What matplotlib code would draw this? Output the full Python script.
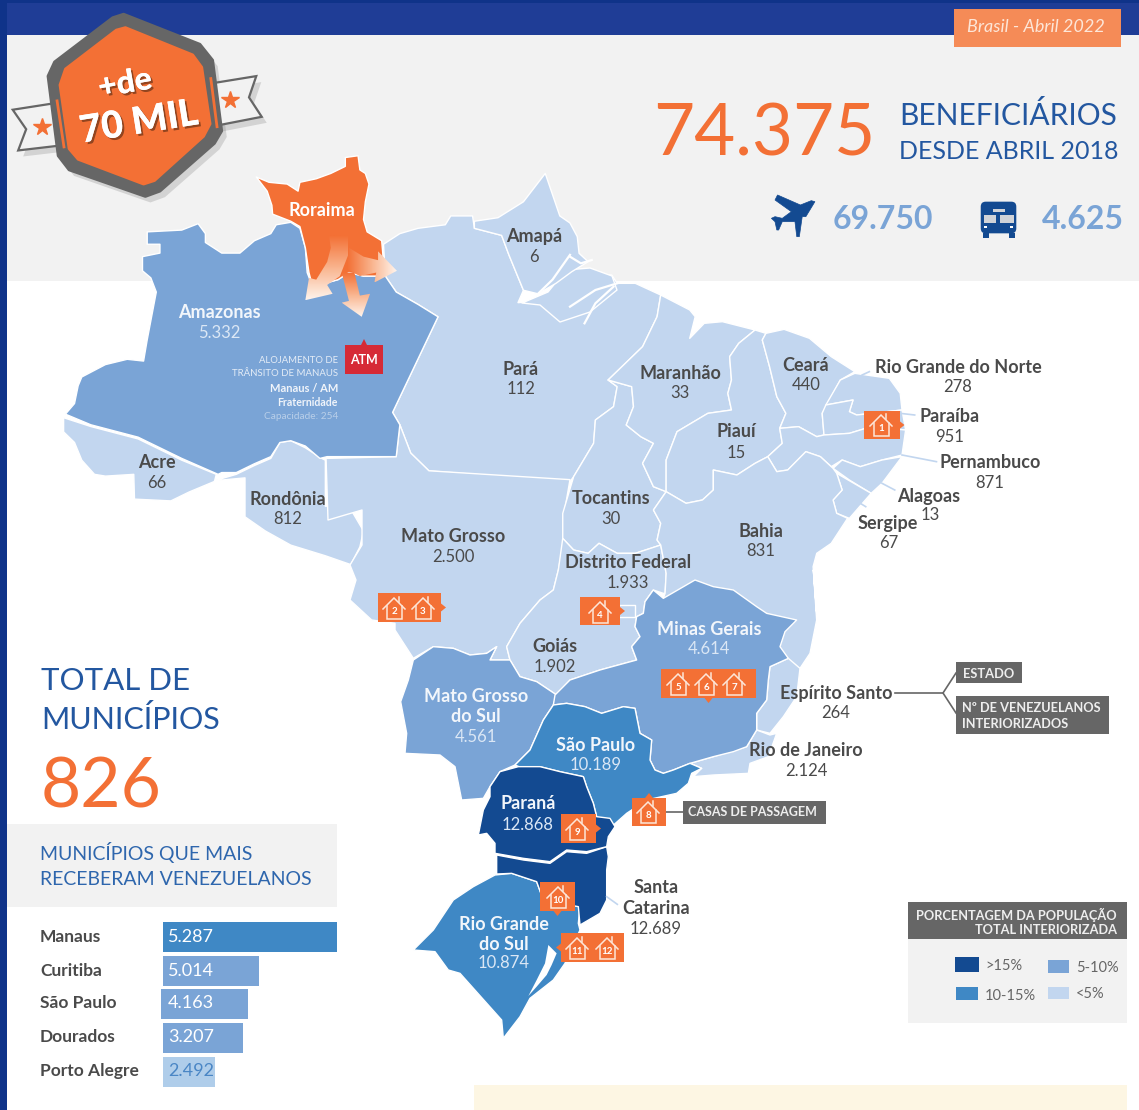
import numpy as np
import matplotlib
matplotlib.use('Agg')
import matplotlib.pyplot as plt
import matplotlib.patheffects as pe
from matplotlib.patches import Polygon, Rectangle, FancyBboxPatch
from matplotlib.colors import LinearSegmentedColormap

plt.rcParams['font.family'] = ['Lato', 'DejaVu Sans']

# ---- dados ----
state_names = ['Amazonas', 'Amapá', 'Pará', 'Maranhão', 'Ceará', 'Rio Grande do Norte', 'Paraíba',
               'Piauí', 'Pernambuco', 'Alagoas', 'Sergipe', 'Acre', 'Rondônia', 'Mato Grosso',
               'Tocantins', 'Bahia', 'Distrito Federal', 'Goiás', 'Minas Gerais',
               'Mato Grosso\ndo Sul', 'Espírito Santo', 'Rio de Janeiro', 'São Paulo', 'Paraná',
               'Santa\nCatarina', 'Rio Grande\ndo Sul']
state_values = ['5.332', '6', '112', '33', '440', '278', '951', '15', '871', '13', '67', '66', '812',
                '2.500', '30', '831', '1.933', '1.902', '4.614', '4.561', '264', '2.124', '10.189',
                '12.868', '12.689', '10.874']
city_names = ['Manaus', 'Curitiba', 'São Paulo', 'Dourados', 'Porto Alegre']
city_labels = ['5.287', '5.014', '4.163', '3.207', '2.492']
city_bar_lengths = [174, 96, 87, 80, 52]  # o comprimento no original nao e proporcional
legend_labels = ['>15%', '5-10%', '10-15%', '<5%']

# ---- layout ----
label_x = [219, 534, 521, 680, 806, 958, 950, 736, 990, 929, 888, 157, 288, 453, 611, 761, 628, 555,
           709, 476, 836, 806, 596, 528, 656, 504]
label_y = [311, 235, 368, 372, 364, 366, 415, 430, 461, 495, 522, 461, 498, 535, 497, 530, 561, 645,
           628, 695, 692, 749, 744, 802, 886, 923]
value_y = [331, 255, 387, 392, 383, 386, 435, 451, 481, 514, 541, 481, 518, 555, 517, 549, 581, 665,
           648, 736, 712, 769, 764, 823, 927, 962]
value_x_fix = {'Alagoas': 930, 'Sergipe': 889}
light_labels = {'Amazonas', 'Minas Gerais', 'Mato Grosso\ndo Sul', 'São Paulo', 'Paraná', 'Rio Grande\ndo Sul'}
bar_y = [937, 971, 1004, 1038, 1071.5]
bar_left = [163, 163, 161, 163, 163]

ORANGE = '#f37035'
C5 = '#c2d6ef'
C10 = '#7aa4d6'
C15 = '#3f88c5'
C20 = '#134a91'
GRAY = '#666666'
DARK = '#4a4a4a'
TITLE_BLUE = '#2357a0'


def z1(p):
    return [(x / 2.751, y / 2.825) for x, y in p]


def z2(p):
    return [(570 + x / 2.756, 180 + y / 3.0) for x, y in p]


def z3(p):
    return [(380 + x / 3.0, 570 + y / 3.0) for x, y in p]


fig = plt.figure(figsize=(11.39, 11.10), dpi=100)
ax = fig.add_axes([0, 0, 1, 1])
ax.set_xlim(0, 1139)
ax.set_ylim(1110, 0)
ax.axis('off')


def rect(x0, y0, x1, y1, color, z=1, **kw):
    ax.add_patch(Rectangle((x0, y0), x1 - x0, y1 - y0, facecolor=color, edgecolor='none', zorder=z, **kw))


def txt(x, y, s, size, color=DARK, ha='center', weight='normal', z=10, **kw):
    return ax.text(x, y + 1.5, s, fontsize=size, color=color, ha=ha, va='center', fontweight=weight, zorder=z, **kw)


# fundo
rect(0, 35, 1139, 281, '#f2f2f2', 0)
rect(0, 0, 1139, 35, '#1f3d96', 1)
rect(0, 0, 1139, 3, '#0f3389', 2)
rect(0, 0, 7, 1110, '#0f3389', 2)
rect(474, 1085, 1127, 1110, '#fdf6e3', 0)

# ---- mapa ----
para = z1([(1055, 690), (1100, 660), (1150, 645), (1225, 635), (1240, 610), (1300, 610), (1305, 645), (1380, 665),
           (1400, 720), (1440, 820), (1425, 855), (1500, 850), (1540, 775)]) + \
    z2([(0, 280), (115, 285), (130, 310), (180, 310), (250, 345), (240, 410), (200, 500), (105, 600), (130, 620),
        (120, 680), (70, 720), (65, 790), (10, 890), (0, 905)]) + \
    z1([(1180, 1330), (1130, 1280), (1100, 1200), (1080, 1165), (1205, 895), (1150, 860), (1090, 825), (1060, 780)])
marajo = [(522, 303), (548, 292), (566, 270), (590, 268), (612, 276), (617, 290), (590, 312), (560, 322), (540, 305)]
amapa = z1([(1305, 625), (1370, 615), (1440, 570), (1500, 490), (1540, 610), (1568, 630)]) + \
    z2([(20, 170), (25, 220), (50, 245), (5, 275)]) + \
    z1([(1530, 800), (1480, 830), (1440, 820), (1400, 720), (1380, 665), (1305, 645)])
acre = z1([(175, 1180), (250, 1205), (380, 1240), (500, 1300), (595, 1340), (590, 1360), (520, 1390), (470, 1415),
           (370, 1410), (368, 1340), (290, 1345), (260, 1340), (225, 1300), (205, 1250), (175, 1220)])
rondonia = z1([(590, 1358), (650, 1340), (700, 1315), (745, 1295), (770, 1250), (800, 1245), (840, 1265), (885, 1295),
               (895, 1300), (895, 1430), (960, 1430), (1000, 1500), (990, 1545), (965, 1595), (895, 1570), (800, 1540),
               (730, 1500), (674, 1460), (674, 1350)])
mato_grosso = z1([(897, 1295), (1090, 1290), (1100, 1200), (1130, 1280), (1180, 1330), (1568, 1355)]) + \
    [(563, 520), (563, 545)] + \
    z3([(535, 0), (520, 60), (480, 90), (420, 160), (380, 230), (390, 270), (330, 270), (350, 230), (320, 250),
        (270, 255), (220, 235), (160, 230), (100, 265), (45, 180), (45, 160), (-25, 150)]) + \
    [(350, 600), (356, 580), (350, 565), (362, 545), (362, 510), (328, 520)]
tocantins = z2([(105, 600), (170, 620), (175, 680), (155, 735), (195, 770), (230, 790), (200, 850), (230, 920),
                (265, 935), (230, 990), (250, 1030), (240, 1080), (250, 1095), (180, 1120), (130, 1120), (80, 1090),
                (50, 1120), (10, 1110), (-20, 1075), (-20, 1000), (10, 890), (65, 790), (70, 720), (120, 680),
                (130, 620)])
goias = z2([(-20, 1075), (10, 1110), (50, 1120), (80, 1090), (130, 1120), (180, 1120), (250, 1095), (265, 1180),
            (262, 1240)]) + \
    z3([(850, 70), (820, 60), (795, 95), (790, 130), (770, 140), (765, 170), (780, 200), (755, 230), (770, 270),
        (660, 300), (570, 330), (530, 375), (470, 335), (420, 320), (390, 270), (380, 230), (420, 160), (480, 90),
        (520, 60), (535, 0)])
maranhao = z2([(250, 345), (330, 390), (345, 410), (330, 475), (370, 430), (420, 425), (510, 450), (465, 490),
               (440, 530), (445, 600), (435, 640), (445, 690), (380, 700), (295, 755), (265, 840), (265, 935),
               (230, 920), (200, 850), (230, 790), (195, 770), (155, 735), (175, 680), (170, 620), (105, 600),
               (200, 500), (240, 410)])
piaui = z2([(510, 450), (540, 460), (530, 480), (550, 560), (570, 650), (595, 700), (578, 745), (585, 790), (545, 830),
            (510, 850), (460, 885), (395, 870), (395, 930), (365, 960), (320, 970), (265, 935), (265, 840), (295, 755),
            (380, 700), (445, 690), (435, 640), (445, 600), (440, 530), (465, 490)])
ceara = z2([(540, 460), (590, 448), (660, 475), (720, 530), (785, 575), (745, 600), (715, 660), (695, 700), (700, 765),
            (680, 770), (630, 740), (578, 745), (595, 700), (570, 650), (550, 560), (530, 480)])
rn = z2([(785, 580), (880, 595), (910, 640), (915, 690), (790, 705), (770, 695), (780, 660), (705, 675), (745, 600)])
paraiba = z2([(705, 675), (780, 660), (770, 695), (790, 705), (915, 690), (925, 750), (830, 740), (770, 760),
              (700, 765), (695, 700)])
pernambuco = z2([(578, 745), (630, 740), (680, 770), (700, 765), (770, 760), (830, 740), (925, 750), (915, 825),
                 (860, 840), (800, 860), (750, 840), (720, 860), (690, 830), (650, 815), (600, 870), (570, 875),
                 (545, 830), (585, 790)])
alagoas = z2([(725, 865), (750, 840), (800, 860), (860, 840), (915, 830), (860, 910), (830, 940), (770, 900)])
sergipe = z2([(735, 880), (830, 940), (770, 1015), (735, 1000), (725, 960), (750, 930)])
bahia = z2([(395, 870), (460, 885), (510, 850), (545, 830), (570, 875), (600, 870), (650, 815), (690, 830), (725, 865),
            (735, 880), (750, 930), (725, 960), (735, 1000), (765, 1015), (720, 1090), (680, 1120), (670, 1160),
            (680, 1300)]) + \
    z3([(1300, 0), (1310, 150), (1290, 250), (1260, 295), (1170, 300), (850, 85)]) + \
    z2([(262, 1240), (265, 1180), (250, 1095), (240, 1080), (250, 1030), (230, 990), (265, 935), (320, 970), (365, 960),
        (395, 930)])
minas = z3([(850, 85), (945, 30), (1000, 50), (1060, 60), (1130, 110), (1160, 130), (1250, 150), (1215, 185),
            (1200, 230), (1225, 265), (1170, 290), (1165, 330), (1160, 390), (1130, 430), (1130, 480), (1100, 530),
            (1060, 545), (1000, 560), (930, 580), (880, 600), (850, 610), (825, 600), (810, 570), (815, 510),
            (780, 490), (765, 415), (730, 410), (665, 430), (615, 410), (560, 400), (520, 405), (525, 375), (570, 330),
            (660, 300), (770, 270), (755, 230), (780, 200), (765, 170), (770, 140), (790, 130), (795, 95), (820, 60)])
espirito = z3([(1170, 290), (1225, 265), (1260, 295), (1250, 380), (1210, 440), (1170, 490), (1130, 480), (1130, 430),
               (1160, 390), (1165, 330)])
rio = z3([(1130, 480), (1170, 495), (1190, 490), (1165, 560), (1110, 580), (1105, 610), (1000, 615), (940, 620),
          (965, 595), (930, 580), (1000, 560), (1100, 530)])
sao_paulo = z3([(405, 585), (450, 540), (490, 450), (520, 405), (560, 400), (615, 410), (665, 430), (730, 410),
                (765, 415), (780, 490), (815, 510), (810, 570), (825, 600), (850, 610), (880, 600), (930, 580),
                (965, 595), (935, 610), (925, 640), (890, 670), (800, 690), (740, 730), (695, 770), (650, 740),
                (640, 700), (620, 650), (610, 620), (540, 605), (480, 590), (440, 600)])
parana = z3([(330, 650), (360, 605), (415, 590), (480, 590), (540, 605), (610, 620), (620, 650), (640, 700), (650, 740),
             (690, 745), (705, 770), (685, 800), (680, 830), (620, 845), (560, 840), (510, 875), (430, 865), (345, 850),
             (345, 820), (320, 790), (295, 795), (310, 720), (330, 680)])
santa_catarina = z3([(350, 855), (430, 870), (510, 880), (560, 845), (620, 850), (680, 830), (685, 860), (680, 900),
                     (680, 990), (660, 1030), (600, 1065), (595, 1010), (490, 990), (470, 935), (395, 910), (350, 912)])
rs = z3([(345, 915), (395, 910), (470, 935), (490, 990), (600, 1010), (595, 1060), (600, 1080), (555, 1180), (520, 1230),
         (450, 1285), (420, 1340), (370, 1405), (365, 1350), (240, 1210), (205, 1200), (165, 1145), (100, 1140),
         (160, 1080), (220, 990), (280, 950)])
lagoa = z3([(505, 1125), (530, 1150), (515, 1185), (500, 1215), (470, 1250), (445, 1278), (470, 1230), (495, 1180)])
ms = z3([(100, 270), (160, 230), (220, 235), (270, 255), (320, 250), (350, 230), (330, 270), (390, 270), (420, 320),
         (470, 335), (530, 375), (520, 405), (490, 450), (450, 540), (405, 585), (360, 605), (330, 650), (310, 685),
         (245, 690), (225, 590), (180, 555), (75, 550), (80, 490), (62, 395), (85, 330)])
amazonas = z1([(405, 655), (500, 650), (545, 632), (565, 660), (565, 685), (610, 715), (660, 715), (700, 680),
               (745, 660), (760, 635), (800, 628), (825, 645), (840, 700), (845, 770), (860, 810), (930, 790),
               (960, 770), (1000, 780), (1060, 780), (1090, 825), (1150, 860), (1205, 895), (1080, 1165), (1100, 1200),
               (1090, 1290), (900, 1290), (880, 1295), (840, 1260), (800, 1245), (770, 1250), (745, 1290), (700, 1310),
               (650, 1335), (610, 1335), (600, 1340), (500, 1295), (380, 1235), (250, 1200), (180, 1170), (205, 1140),
               (215, 1090), (225, 1065), (290, 1030), (350, 1015), (395, 1020), (405, 960), (430, 825), (415, 785),
               (392, 765), (392, 725), (440, 715), (440, 690), (405, 690)])
roraima = z1([(705, 500), (740, 515), (790, 520), (820, 540), (825, 515), (870, 505), (910, 490), (950, 470), (950, 445),
              (985, 440), (990, 480), (1005, 490), (1015, 520), (1005, 570), (1000, 620), (1010, 655), (1050, 680),
              (1055, 740), (1060, 780), (1000, 780), (960, 770), (930, 790), (860, 810), (850, 770), (840, 700),
              (825, 640), (800, 625), (750, 605), (748, 580), (735, 540)])

light_states = [para, marajo, amapa, acre, rondonia, mato_grosso, tocantins, goias, maranhao, piaui, ceara, rn, paraiba,
                pernambuco, alagoas, sergipe, bahia, espirito, rio]
for st in light_states:
    ax.add_patch(Polygon(st, closed=True, facecolor=C5, edgecolor='white', lw=1.0, zorder=3, joinstyle='round'))
for st, cor in [(ms, C10), (minas, C10), (amazonas, C10), (sao_paulo, C15), (rs, C15), (santa_catarina, C20),
                (parana, C20), (roraima, ORANGE)]:
    ax.add_patch(Polygon(st, closed=True, facecolor=cor, edgecolor='white', lw=1.0, zorder=4, joinstyle='round'))
ax.add_patch(Polygon(lagoa, closed=True, facecolor='white', edgecolor='none', zorder=5))

# foz do amazonas
for linha in [z2([(0, 380), (70, 330), (130, 310)]), z2([(40, 430), (70, 370), (120, 320)]),
              z2([(0, 230), (30, 250), (60, 240)]), z1([(1480, 830), (1520, 790), (1568, 720)])]:
    ax.plot(*zip(*linha), color='white', lw=1.6, zorder=5)
# borda do DF
ax.plot(*zip(*z3([(720, 105), (765, 105), (765, 140), (720, 140)])), color='white', lw=1, zorder=5)

# setas de Roraima
seta_cmap = LinearSegmentedColormap.from_list('seta', [ORANGE, '#f9b48e', '#fff4ec'])
setas = [
    (z1([(905, 665), (958, 665), (958, 720), (935, 780), (900, 805), (915, 830), (840, 848), (850, 785), (870, 790),
         (900, 740), (910, 700)]), 'v'),
    (z1([(940, 770), (975, 770), (990, 835), (1018, 830), (995, 895), (940, 855), (960, 850)]), 'v'),
    (z1([(960, 700), (1000, 725), (1040, 735), (1040, 710), (1092, 765), (1030, 798), (1035, 770), (990, 780),
         (955, 760)]), 'h'),
]
for pts, sentido in setas:
    xs, ys = zip(*pts)
    grad = np.linspace(0, 1, 64)
    grad = grad[:, None] if sentido == 'v' else grad[None, :]
    im = ax.imshow(grad, extent=(min(xs), max(xs), max(ys), min(ys)), cmap=seta_cmap, aspect='auto', zorder=6)
    clip = Polygon(pts, closed=True, transform=ax.transData, facecolor='none', edgecolor='none')
    ax.add_patch(clip)
    im.set_clip_path(clip)
ax.set_xlim(0, 1139)
ax.set_ylim(1110, 0)

# ---- selo ----
hex_out = z1([(340, 40), (550, 125), (585, 170), (610, 370), (590, 405), (440, 540), (400, 555), (190, 480), (160, 440),
              (132, 215), (150, 175), (310, 50)])
hex_in = z1([(345, 78), (530, 155), (555, 190), (578, 350), (560, 385), (425, 510), (395, 520), (215, 450), (190, 420),
             (165, 240), (180, 195), (320, 85)])
fita_e = z1([(35, 310), (160, 290), (175, 410), (50, 425), (72, 365)])
fita_d = z1([(585, 235), (705, 215), (685, 275), (720, 330), (595, 355)])
for pts in [hex_out, fita_e, fita_d]:
    ax.add_patch(Polygon([(x + 5, y + 6) for x, y in pts], closed=True, facecolor='#777777', edgecolor='none',
                         alpha=0.25, zorder=6))
for pts in [fita_e, fita_d]:
    ax.add_patch(Polygon(pts, closed=True, facecolor='#f2f2f2', edgecolor=GRAY, lw=1.6, zorder=7))
ax.add_patch(Polygon(hex_out, closed=True, facecolor=GRAY, edgecolor=GRAY, lw=2, joinstyle='round', zorder=8))
ax.add_patch(Polygon(hex_in, closed=True, facecolor=ORANGE, edgecolor=ORANGE, lw=2, joinstyle='round', zorder=9))
ax.plot(*zip(*z1([(157, 285), (176, 415)])), color=ORANGE, lw=2, zorder=8)
ax.plot(*zip(*z1([(580, 222), (597, 358)])), color=ORANGE, lw=2, zorder=8)
ax.plot(*zip(*z1([(115, 358), (632, 283)])), ls='none', marker='*', ms=13, color=ORANGE, zorder=9)
sombra = [pe.withSimplePatchShadow(offset=(1.5, -1.5), shadow_rgbFace='#7a3a1a', alpha=0.8), pe.Normal()]
txt(125, 82, '+de', 23, 'white', weight='black', rotation=10, path_effects=sombra)
txt(139, 121, '70 MIL', 27, 'white', weight='black', rotation=9, path_effects=sombra)

# ---- topo ----
rect(954, 9, 1121, 47, '#f58b57', 3)
txt(1036, 26, 'Brasil - Abril 2022', 13, '#fde6d8', style='italic')
txt(764, 134, '74.375', 51, ORANGE)
txt(899, 114, 'BENEFICIÁRIOS', 21.5, TITLE_BLUE, ha='left')
txt(899, 150, 'DESDE ABRIL 2018', 18, TITLE_BLUE, ha='left')
txt(833, 218, '69.750', 23, C10, ha='left', weight='bold')
txt(1042, 218, '4.625', 23, C10, ha='left', weight='bold')

aviao = z2([(675, 65), (650, 110), (640, 110), (632, 170), (625, 170), (620, 125), (585, 125), (575, 150), (570, 150),
            (565, 125), (555, 115), (565, 110), (585, 115), (610, 95), (565, 60), (572, 45), (635, 75), (665, 62)])
ax.add_patch(Polygon(aviao, closed=True, facecolor=C20, edgecolor=C20, lw=0.5, zorder=5))

(bx0, by0), (bx1, by1) = z2([(1132, 65), (1230, 160)])
ax.add_patch(FancyBboxPatch((bx0 + 3, by0 + 3), bx1 - bx0 - 6, by1 - by0 - 6, boxstyle='round,pad=3,rounding_size=5',
                            facecolor=C20, edgecolor='none', zorder=5))
for a, b, cor in [((1140, 105), (1175, 130), '#d0d3d8'), ((1185, 105), (1225, 130), '#d0d3d8'),
                  ((1165, 88), (1200, 96), '#d0d3d8'), ((1137, 160), (1155, 175), C20), ((1210, 160), (1227, 175), C20),
                  ((1142, 137), (1150, 145), 'white'), ((1213, 137), (1221, 145), 'white')]:
    (x0, y0), (x1, y1) = z2([a, b])
    rect(x0, y0, x1, y1, cor, 6)

# ---- rotulos dos estados ----
txt(322, 209, 'Roraima', 13, 'white', weight='bold', z=11)
for nome, valor, lx, ly, vy in zip(state_names, state_values, label_x, label_y, value_y):
    claro = nome in light_labels
    cor_nome = '#f2f6fb' if claro else DARK
    cor_valor = '#dbe7f5' if claro else DARK
    partes = nome.split('\n')
    passo = (vy - ly) / len(partes)
    for i, parte in enumerate(partes):
        txt(lx, ly + i * passo, parte, 13, cor_nome, weight='bold')
    txt(value_x_fix.get(nome, lx), vy, valor, 12, cor_valor)

# linhas de chamada
for linha in [z2([(805, 585), (825, 575)]), z2([(910, 700), (950, 705)]), z2([(915, 825), (1010, 845)]),
              z2([(860, 910), (895, 930)]), z2([(800, 970), (815, 980)]), z3([(680, 980), (712, 1003)])]:
    ax.plot(*zip(*linha), color=C5, lw=1.2, zorder=5)

# ---- ATM ----
rect(345, 345, 383, 373.5, '#d62a36', 6)
ax.add_patch(Polygon([(361, 345), (367, 345), (364, 339)], closed=True, facecolor='#d62a36', zorder=6))
txt(364, 358, 'ATM', 9, 'white', weight='bold')
for yy, s, tam, cor, peso in [(359, 'ALOJAMENTO DE', 6.8, '#e4ecf6', 'normal'),
                              (372, 'TRÂNSITO DE MANAUS', 6.9, '#e4ecf6', 'normal'),
                              (387, 'Manaus / AM', 8, '#f0f4fa', 'bold'),
                              (401, 'Fraternidade', 7.6, '#f0f4fa', 'bold'),
                              (415, 'Capacidade: 254', 7.3, '#b9cfe9', 'normal')]:
    txt(338, yy, s, tam, cor, ha='right', weight=peso)


# ---- casas de passagem ----
def casa(cx, cy, n):
    tp = [(-11, 1), (0, -10), (11, 1)]
    corpo = [(-7.5, -2), (-7.5, 11), (7.5, 11), (7.5, -2)]
    chamine = [(5, -6), (5, -11)]
    for pts in [tp, corpo, chamine]:
        ax.plot([cx + p[0] for p in pts], [cy + p[1] for p in pts], color='#fde6d8', lw=1.1, zorder=8,
                solid_joinstyle='miter')
    txt(cx, cy + 2, n, 7, 'white', weight='bold', z=9)


caixas = [
    (864, 411, 899.5, 439, 'r', [(881, 425, '1')]),
    (378, 593, 441, 622, 'r', [(394, 608, '2'), (423, 608, '3')]),
    (580, 597, 620, 625, 'r', [(600, 612, '4')]),
    (661, 669, 756, 698, 'b', [(678, 684, '5'), (706, 684, '6'), (734, 684, '7')]),
    (632, 798, 666, 826, 't', [(648, 812, '8')]),
    (561, 814, 596, 843, 'r', [(577, 829, '9')]),
    (540, 882, 575, 911, 'b', [(558, 897, '10')]),
    (561, 933, 624, 962, 'l', [(577, 948, '11'), (607, 948, '12')]),
]
for x0, y0, x1, y1, lado, casas in caixas:
    rect(x0, y0, x1, y1, ORANGE, 7)
    xm, ym = (x0 + x1) / 2, (y0 + y1) / 2
    if lado == 'r':
        tri = [(x1, ym - 4), (x1, ym + 4), (x1 + 5, ym)]
    elif lado == 'l':
        tri = [(x0, ym - 4), (x0, ym + 4), (x0 - 5, ym)]
    elif lado == 'b':
        tri = [(xm - 4, y1), (xm + 4, y1), (xm, y1 + 5)]
    else:
        tri = [(xm - 4, y0), (xm + 4, y0), (xm, y0 - 5)]
    ax.add_patch(Polygon(tri, closed=True, facecolor=ORANGE, edgecolor='none', zorder=7))
    for cx, cy, n in casas:
        casa(cx, cy, n)

# etiquetas cinza
ax.plot([666, 683], [812, 812], color=GRAY, lw=1.2, zorder=5)
rect(683, 801, 826, 824, GRAY, 6)
txt(752, 811, 'CASAS DE PASSAGEM', 9, '#eeeeee', weight='bold')
ax.plot([895, 943], [693, 693], color=GRAY, lw=1.2, zorder=5)
ax.plot([956, 943, 956], [673, 693, 713], color=GRAY, lw=1.2, zorder=5)
rect(956, 662, 1022, 683, GRAY, 6)
txt(963, 672, 'ESTADO', 9.3, '#eeeeee', ha='left', weight='bold')
rect(956, 696, 1109, 734, GRAY, 6)
txt(962, 706, 'Nº DE VENEZUELANOS', 9.2, '#eeeeee', ha='left', weight='bold')
txt(962, 722, 'INTERIORIZADOS', 9.2, '#eeeeee', ha='left', weight='bold')

# ---- municipios ----
txt(41, 680, 'TOTAL DE', 22.5, TITLE_BLUE, ha='left')
txt(41, 718, 'MUNICÍPIOS', 22, TITLE_BLUE, ha='left')
txt(41, 786, '826', 50, ORANGE, ha='left')
rect(7, 824, 337, 907, '#f2f2f2', 1)
txt(40, 851, 'MUNICÍPIOS QUE MAIS', 14, '#2e66ad', ha='left')
txt(40, 878, 'RECEBERAM VENEZUELANOS', 14, '#2e66ad', ha='left')

cores_barra = [C15, C10, C10, C10, '#afcdea']
ax.barh(bar_y, city_bar_lengths, left=bar_left, height=30, color=cores_barra, zorder=3)
for nome, rotulo, yy, cor in zip(city_names, city_labels, bar_y, ['white'] * 4 + ['#4a86c5']):
    txt(40, yy - 2, nome, 12.5, DARK, ha='left', weight='bold')
    txt(168, yy - 2, rotulo, 13, cor, ha='left')

# ---- legenda ----
rect(908, 902, 1127, 939, GRAY, 2)
rect(908, 939, 1127, 1023, '#f2f2f2', 2)
txt(1117, 913, 'PORCENTAGEM DA POPULAÇÃO', 9.2, '#eeeeee', ha='right', weight='bold')
txt(1117, 928, 'TOTAL INTERIORIZADA', 9.2, '#eeeeee', ha='right', weight='bold')
for (x0, y0, x1, y1, lx, ly), cor, lab in zip([(955, 957, 979, 972, 985, 964), (1048, 960, 1069, 973, 1076, 966),
                                               (956, 987, 978, 1000, 985, 994), (1048, 987, 1069, 999, 1076, 993)],
                                              [C20, C10, C15, C5], legend_labels):
    rect(x0, y0, x1, y1, cor, 3)
    txt(lx, ly, lab, 10.5, '#666666', ha='left')

fig.savefig('out.png', dpi=100)
